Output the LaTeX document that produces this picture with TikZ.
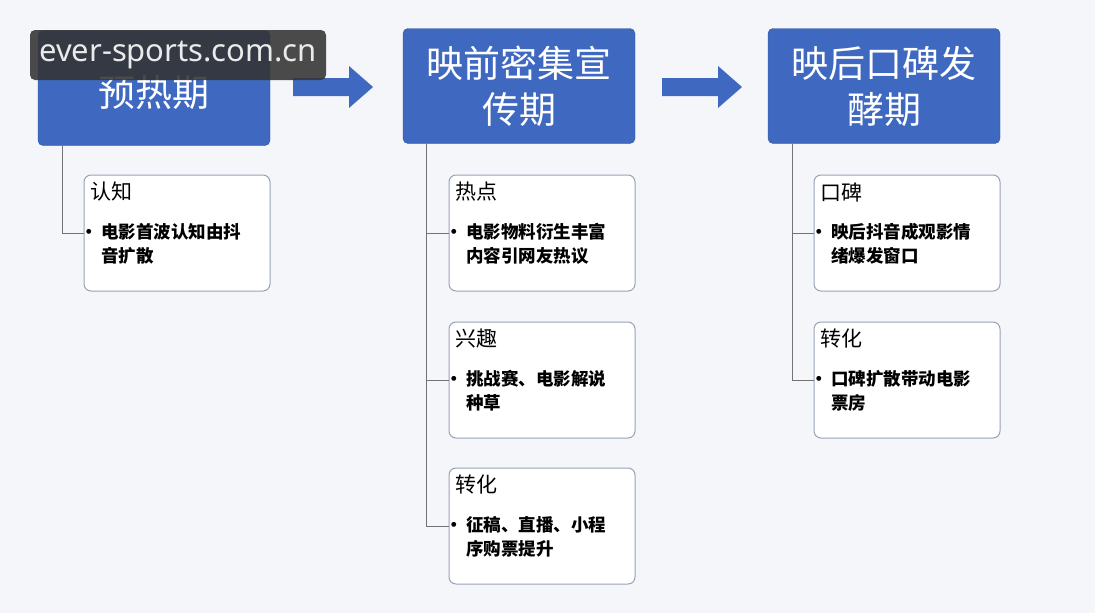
\documentclass[tikz,border=0pt]{standalone}
\usepackage{fontspec}
\setmainfont{Noto Sans CJK SC}
\newfontfamily\wmfont{Noto Sans}
\usetikzlibrary{arrows.meta,positioning}
\definecolor{stageblue}{HTML}{3F69C0}
\definecolor{leafgray}{HTML}{98A3B6}
\definecolor{bgpaper}{HTML}{F5F6FA}
\tikzset{
  stage/.style={fill=stageblue,draw=stageblue!80!black,rounded corners=5pt,
    minimum width=232pt,minimum height=115pt,text=white,
    font=\fontsize{37}{46}\selectfont,align=center},
  leaf/.style={draw=leafgray,fill=white,rounded corners=7pt,line width=1pt,
    minimum width=186pt,minimum height=116pt},
  leaftitle/.style={anchor=west,font=\fontsize{21}{24}\selectfont},
  leaftext/.style={anchor=north west,font=\bfseries\fontsize{17.5}{24}\selectfont,align=left},
  branch/.style={draw=black!55,line width=0.8pt},
  flow/.style={fill=stageblue,draw=none}
}
\begin{document}
\begin{tikzpicture}[x=1pt,y=-1pt]
  \useasboundingbox[fill=bgpaper] (0,0) rectangle (1095,613);

  % stages
  \node[stage] (pre) at (154,88) {\\[-6pt]预热期};
  \node[stage] (mid) at (519,86) {映前密集宣\\传期};
  \node[stage] (post) at (884,86) {映后口碑发\\酵期};

  % flow arrows
  \foreach \xa in {293,662}
    \fill[flow] (\xa,78) -- ++(56,0) -- ++(0,-12) -- ++(24,21) -- ++(-24,21) -- ++(0,-12) -- ++(-56,0) -- cycle;

  % leaves
  \node[leaf] (know) at (177,233) {};
  \node[leaf] (hot) at (542,233) {};
  \node[leaf] (fun) at (542,380) {};
  \node[leaf] (conv) at (542,526) {};
  \node[leaf] (word) at (907,233) {};
  \node[leaf] (sale) at (907,380) {};

  \foreach \leafname/\ttl/\txt in {know/认知/电影首波认知由抖\\音扩散,
      hot/热点/电影物料衍生丰富\\内容引网友热议,
      fun/兴趣/挑战赛、电影解说\\种草,
      conv/转化/征稿、直播、小程\\序购票提升,
      word/口碑/映后抖音成观影情\\绪爆发窗口,
      sale/转化/口碑扩散带动电影\\票房}{
    \node[leaftitle] at ([xshift=3pt,yshift=41pt]\leafname.west) {\ttl};
    \node[leaftext] at ([xshift=14pt,yshift=13pt]\leafname.west) {\llap{\textbullet\,}\txt};
  }

  % branches
  \draw[branch] ([xshift=-92pt]pre.south) |- (know.west);
  \draw[branch] ([xshift=-93pt]mid.south) |- (hot.west);
  \draw[branch] ([xshift=-93pt]mid.south) |- (fun.west);
  \draw[branch] ([xshift=-93pt]mid.south) |- (conv.west);
  \draw[branch] ([xshift=-92pt]post.south) |- (word.west);
  \draw[branch] ([xshift=-92pt]post.south) |- (sale.west);

  % watermark
  \node[fill=black!80,fill opacity=0.88,text opacity=1,text=white!92!black,rounded corners=5pt,
    minimum width=296pt,minimum height=50pt,font=\wmfont\fontsize{31}{32}\selectfont]
    (mark) at (178,55) {ever-sports.com.cn};
\end{tikzpicture}
\end{document}
